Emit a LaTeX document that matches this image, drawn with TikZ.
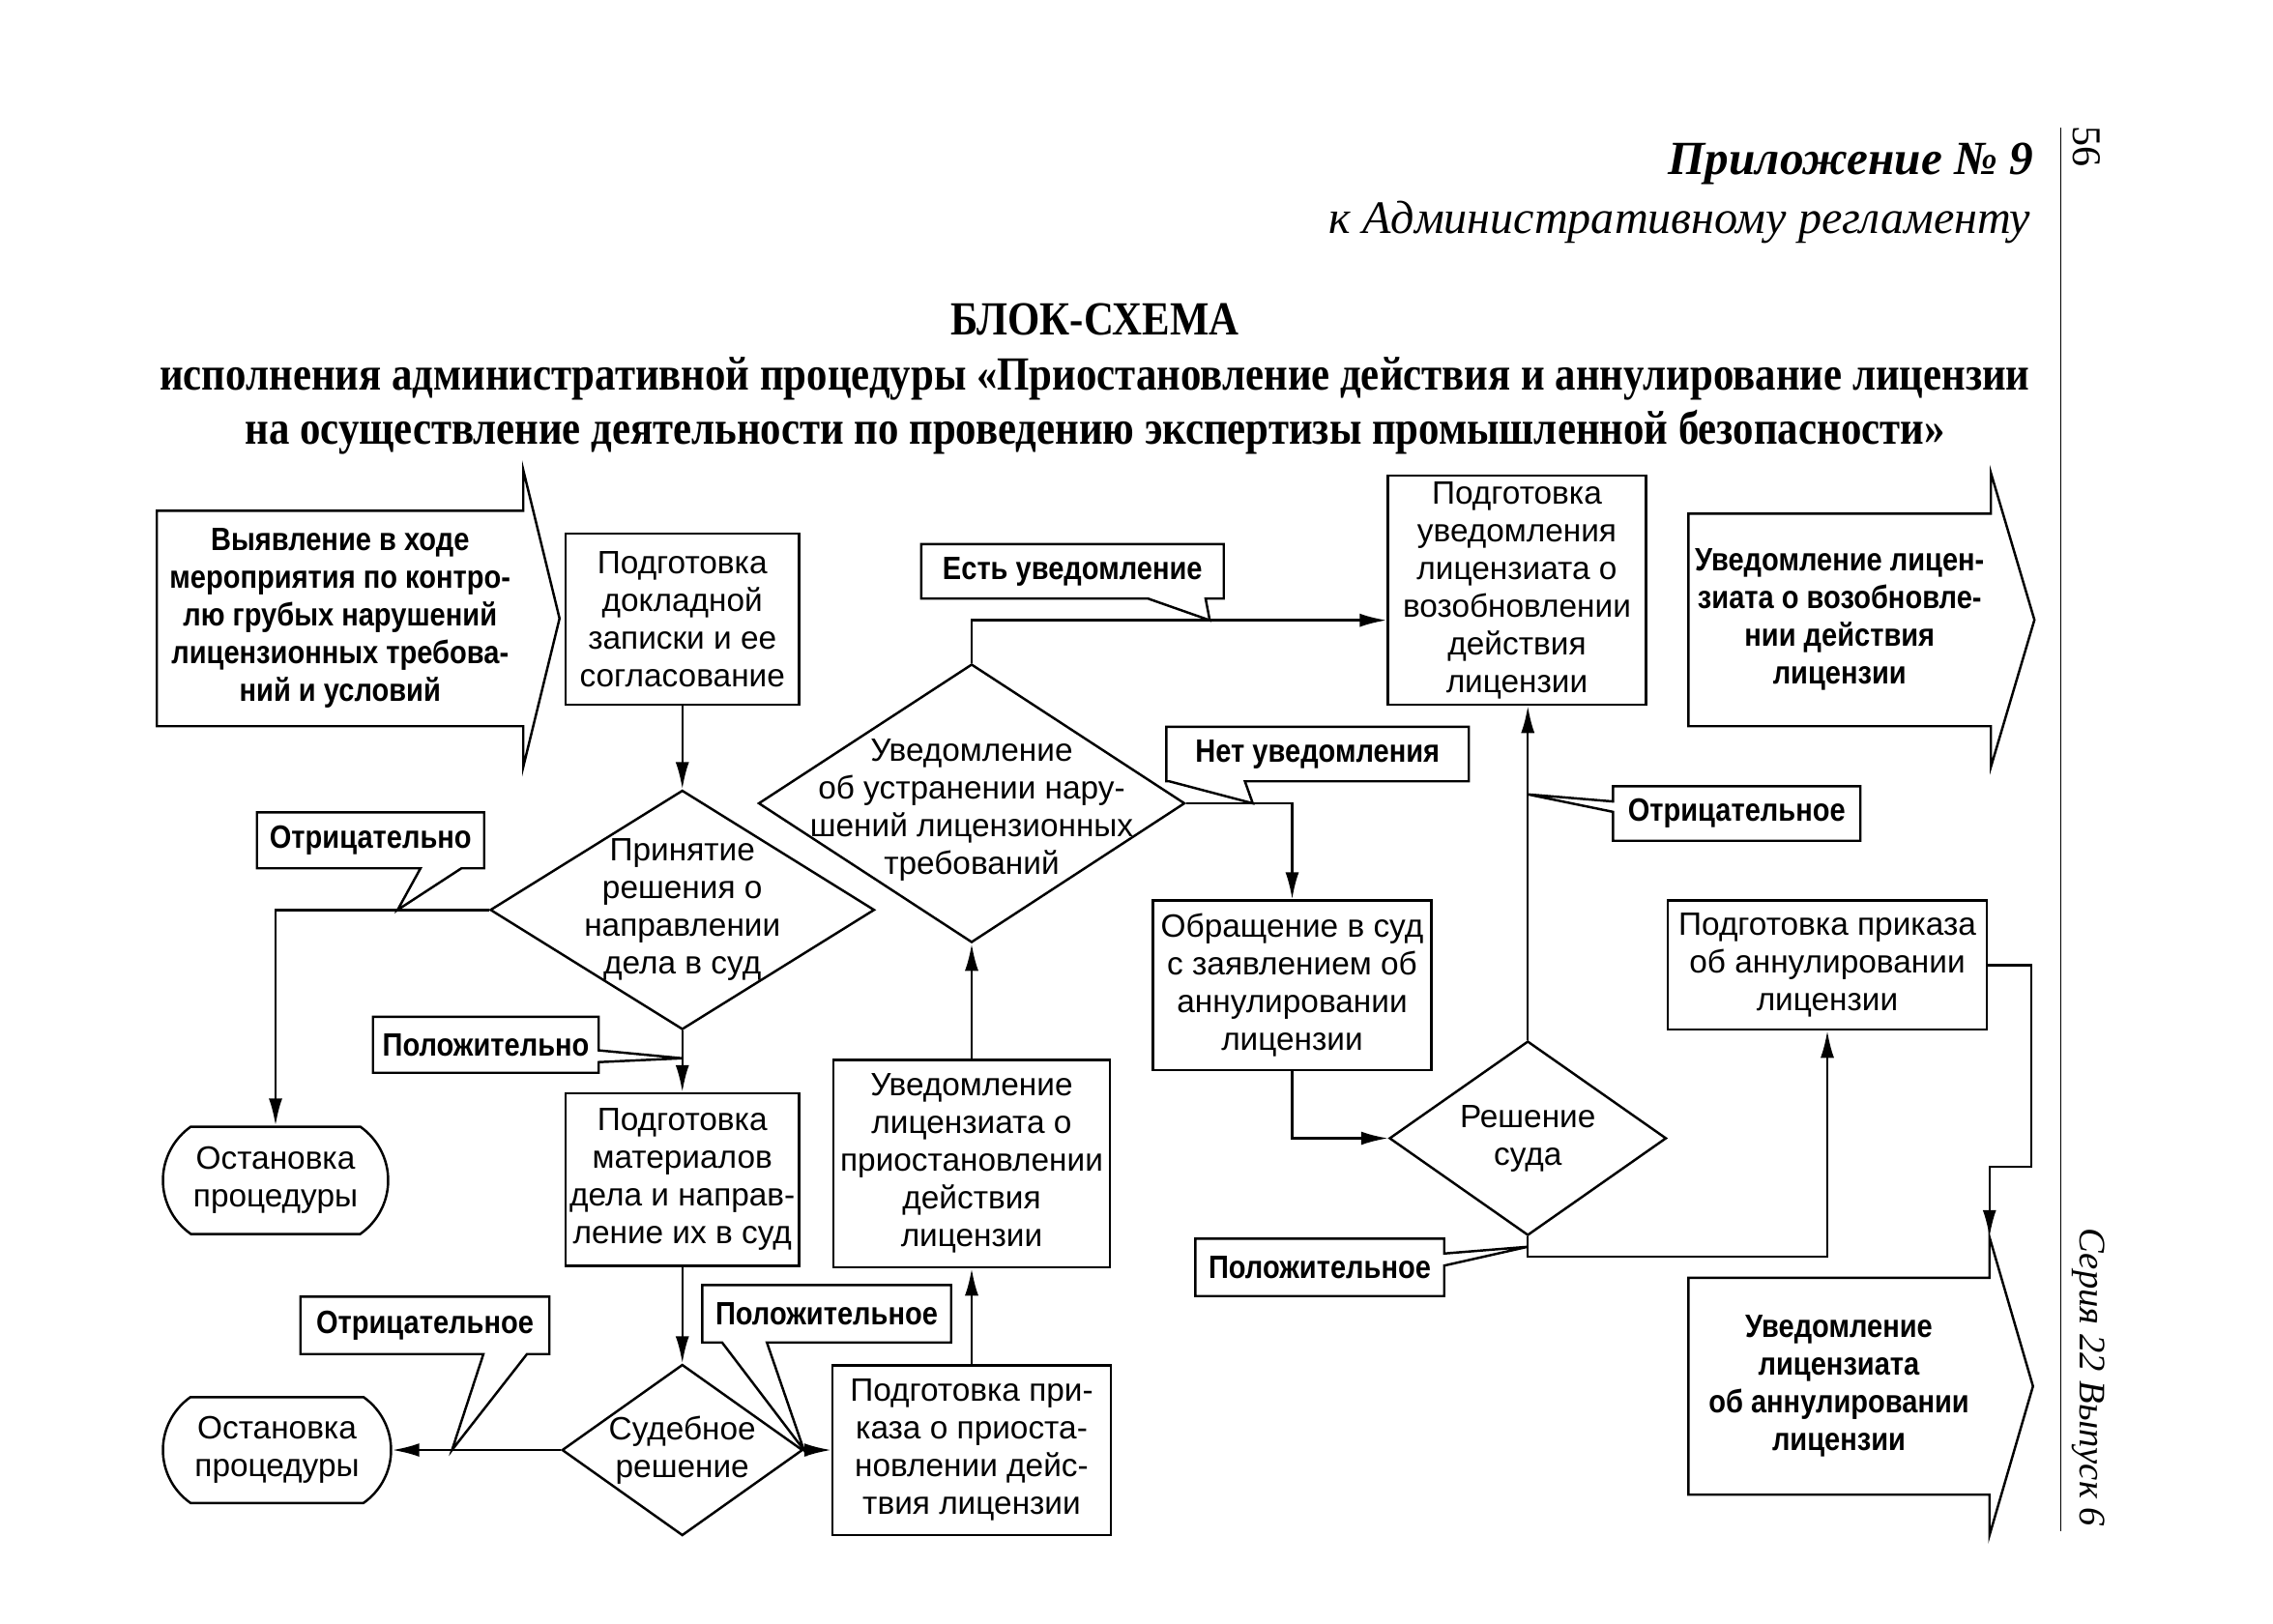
\documentclass[tikz,border=0pt]{standalone}
\usepackage{fontspec}
\setmainfont{Liberation Sans}[BoldFeatures={FakeStretch=0.87}]
\newfontfamily\headfont{Liberation Serif}[FakeStretch=0.87]
\newfontfamily\serifnorm{Liberation Serif}
\usetikzlibrary{arrows.meta}
\usetikzlibrary{calc}
\usetikzlibrary{shapes.geometric}
\usetikzlibrary{shapes.misc}

% body of a box with an arrow head on its right side
\newcommand{\arrowbox}[2]{%
  \draw (#1.south west) -- (#1.north west) -- (#1.north east) -- ++(0,-28)
    -- ($(#1.east)+(#2,0)$) -- ($(#1.south east)+(0,28)$) -- (#1.south east) -- cycle;}
% label frames with a pointer: bottom, right, left side
\newcommand{\pointS}[4]{%
  \draw (#1.south west) -- (#1.north west) -- (#1.north east) -- (#1.south east)
    -- ($(#1.south west)!#3!(#1.south east)$) -- (#4) -- ($(#1.south west)!#2!(#1.south east)$) -- cycle;}
\newcommand{\pointE}[4]{%
  \draw (#1.south east) -- (#1.south west) -- (#1.north west) -- (#1.north east)
    -- ($(#1.south east)!#3!(#1.north east)$) -- (#4) -- ($(#1.south east)!#2!(#1.north east)$) -- cycle;}
\newcommand{\pointW}[4]{%
  \draw (#1.north west) -- (#1.north east) -- (#1.south east) -- (#1.south west)
    -- ($(#1.south west)!#2!(#1.north west)$) -- (#4) -- ($(#1.south west)!#3!(#1.north west)$) -- cycle;}

\begin{document}
\begin{tikzpicture}[x=0.015cm, y=-0.015cm, line width=0.7pt,
  >={Latex[length=2.8mm,width=1.4mm]},
  every node/.style={font=\fontsize{9.5}{11.1}\selectfont},
  box/.style={draw, rectangle, align=center, inner sep=1pt},
  dec/.style={draw, diamond, inner sep=0pt},
  term/.style={draw, rounded rectangle, rounded rectangle arc length=110, align=center, inner sep=1pt},
  body/.style={rectangle, align=center, inner sep=1pt, font=\fontsize{9.5}{11.1}\selectfont\bfseries},
  lbl/.style={rectangle, inner sep=1pt, font=\fontsize{9.5}{11.1}\selectfont\bfseries}]
\useasboundingbox (0,0) rectangle (1567.33,1119.33);

\node[anchor=east, inner sep=0pt, font=\serifnorm\fontsize{14}{16}\selectfont\bfseries\itshape] (app) at (1403,113) {Приложение №~9};
\node[anchor=east, inner sep=0pt, font=\serifnorm\fontsize{13.7}{16}\selectfont\itshape] (reg) at (1401,153) {к Административному регламенту};
\node[font=\headfont\fontsize{14}{16}\selectfont\bfseries] (title) at (755,220) {БЛОК-СХЕМА};
\node[font=\headfont\fontsize{14}{16}\selectfont\bfseries] (sub1) at (755,261) {исполнения административной процедуры «Приостановление действия и аннулирование лицензии};
\node[font=\headfont\fontsize{14}{16}\selectfont\bfseries] (sub2) at (755,298) {на осуществление деятельности по проведению экспертизы промышленной безопасности»};
\draw[line width=0.5pt] (1421,88) -- (1421,1056);
\node[rotate=-90, font=\serifnorm\fontsize{12}{14}\selectfont] (pagenum) at (1439,101) {56};
\node[rotate=-90, font=\serifnorm\fontsize{11}{13}\selectfont\itshape] (series) at (1440,950) {Серия 22 Выпуск 6};

\node[body, minimum width=3.765cm, minimum height=2.205cm] (in) at (234.5,426.5) {Выявление в ходе\\мероприятия по контро-\\лю грубых нарушений\\лицензионных требова-\\ний и условий};
\arrowbox{in}{25}
\node[box, minimum width=2.415cm, minimum height=1.77cm] (a) at (470.5,427) {Подготовка\\докладной\\записки и ее\\согласование};
\node[dec, minimum width=3.975cm, minimum height=2.475cm, label={[align=center]center:{Принятие\\решения о\\направлении\\дела в суд}}] (d1) at (470.5,627.5) {};
\node[term, minimum width=2.4cm, minimum height=1.11cm] (t1) at (190,814) {Остановка\\процедуры};
\node[box, minimum width=2.415cm, minimum height=1.785cm] (b) at (470.5,813.5) {Подготовка\\материалов\\дела и направ-\\ление их в суд};
\node[dec, minimum width=2.49cm, minimum height=1.77cm, label={[align=center]center:{Судебное\\решение}}] (d2) at (470.5,1000) {};
\node[term, minimum width=2.43cm, minimum height=1.095cm] (t2) at (191,1000) {Остановка\\процедуры};
\node[box, minimum width=2.88cm, minimum height=1.755cm] (c) at (670,1000) {Подготовка при-\\каза о приоста-\\новлении дейс-\\твия лицензии};
\node[box, minimum width=2.865cm, minimum height=2.145cm] (e) at (670,802.5) {Уведомление\\лицензиата о\\приостановлении\\действия\\лицензии};
\node[dec, minimum width=4.41cm, minimum height=2.88cm, label={[align=center, yshift=-2pt]center:{Уведомление\\об устранении нару-\\шений лицензионных\\требований}}] (d3) at (670,554) {};
\node[box, minimum width=2.67cm, minimum height=2.37cm] (f) at (1046,407) {Подготовка\\уведомления\\лицензиата о\\возобновлении\\действия\\лицензии};
\node[body, minimum width=3.105cm, minimum height=2.175cm] (out1) at (1268.5,427.5) {Уведомление лицен-\\зиата о возобновле-\\нии действия\\лицензии};
\arrowbox{out1}{30}
\node[box, minimum width=2.88cm, minimum height=1.755cm] (g) at (891,679.5) {Обращение в суд\\с заявлением об\\аннулировании\\лицензии};
\node[dec, minimum width=2.865cm, minimum height=2.01cm, label={[align=center]center:{Решение\\суда}}] (d4) at (1053.5,785) {};
\node[box, minimum width=3.3cm, minimum height=1.335cm] (h) at (1260,665.5) {Подготовка приказа\\об аннулировании\\лицензии};
\node[body, minimum width=3.09cm, minimum height=2.22cm] (out2) at (1268,956) {Уведомление\\лицензиата\\об аннулировании\\лицензии};
\arrowbox{out2}{30}

\coordinate (fin) at ($(f.south west)!.37!(f.north west)$);
\coordinate (fbot) at (d4.north |- f.south);
\coordinate (o2top) at ($(out2.north east)+(0,-28)$);

\draw[->] (a.south) -- (d1.north);
\draw[->] (d1.west) -| (t1.north);
\draw[->] (d1.south) -- (b.north);
\draw[->] (b.south) -- (d2.north);
\draw[->] (d2.west) -- (t2.east);
\draw[->] (d2.east) -- (c.west);
\draw[->] (c.north) -- (e.south);
\draw[->] (e.north) -- (d3.south);
\draw[->] (d3.north) |- (fin);
\draw[->] (d3.east) -| (g.north);
\draw[->] (g.south) |- (d4.west);
\draw[->] (d4.north) -- (fbot);
\draw[->] (d4.south) -- ++(0,14) -| (h.south);
\draw[->] (h.east) -- ++(30,0) -- ++(0,139) -| (o2top);

\coordinate (tneg1) at ($(d1.west)+(-63,0)$);
\coordinate (tpos1) at ($(d1.south)+(0,19)$);
\coordinate (tneg2) at ($(d2.west)+(-75,0)$);
\coordinate (tpos2) at (d2.east);
\coordinate (tyes) at ($(fin)+(-122,0)$);
\coordinate (tno) at ($(d3.east)+(46,0)$);
\coordinate (tneg3) at ($(fbot)+(0,61)$);
\coordinate (tpos3) at ($(d4.south)+(0,7)$);

\node[lbl, minimum width=2.325cm, minimum height=0.555cm] (lneg1) at (255.5,579.5) {Отрицательно};
\pointS{lneg1}{.72}{.90}{tneg1}
\node[lbl, minimum width=2.31cm, minimum height=0.555cm] (lpos1) at (335,720.5) {Положительно};
\pointE{lpos1}{.19}{.40}{tpos1}
\node[lbl, minimum width=2.55cm, minimum height=0.57cm] (lneg2) at (293,914) {Отрицательное};
\pointS{lneg2}{.735}{.91}{tneg2}
\node[lbl, minimum width=2.55cm, minimum height=0.57cm] (lpos2) at (570,906) {Положительное};
\pointS{lpos2}{.08}{.26}{tpos2}
\node[lbl, minimum width=3.105cm, minimum height=0.54cm] (lyes) at (739.5,394) {Есть уведомление};
\pointS{lyes}{.75}{.94}{tyes}
\node[lbl, minimum width=3.105cm, minimum height=0.54cm] (lno) at (908.5,520) {Нет уведомления};
\pointS{lno}{.01}{.26}{tno}
\node[lbl, minimum width=2.535cm, minimum height=0.54cm] (lneg3) at (1197.5,561) {Отрицательное};
\pointW{lneg3}{.53}{.72}{tneg3}
\node[lbl, minimum width=2.55cm, minimum height=0.57cm] (lpos3) at (910,874) {Положительное};
\pointE{lpos3}{.53}{.74}{tpos3}
\end{tikzpicture}
\end{document}
